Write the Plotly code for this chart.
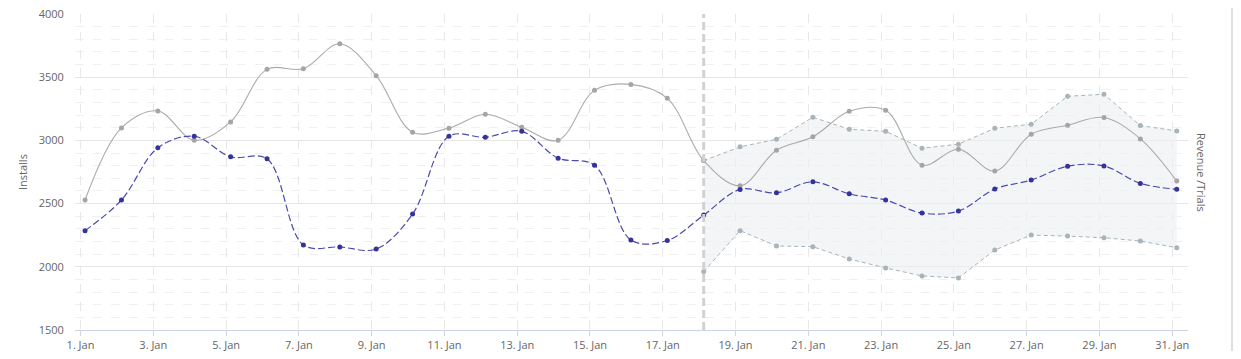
import plotly.graph_objects as go
import pandas as pd

days = list(range(1, 32))
installs_gray = [2528, 3099, 3233, 3001, 3146, 3562, 3567, 3765, 3512, 3065,
                 3097, 3207, 3104, 3001, 3396, 3443, 3333, 2840, 2641, 2922,
                 3028, 3230, 3238, 2804, 2930, 2757, 3049, 3120, 3181, 3012, 2678]
series_blue = [2286, 2528, 2941, 3033, 2870, 2854, 2173, 2157, 2141, 2417,
               3033, 3025, 3072, 2859, 2804, 2212, 2208, 2409, 2612, 2585,
               2672, 2577, 2528, 2425, 2441, 2615, 2686, 2796, 2798, 2660, 2614]
range_days = list(range(18, 32))
range_upper = [2840, 2949, 3009, 3183, 3088, 3072, 2938, 2970, 3096, 3128,
               3349, 3365, 3117, 3075]
range_lower = [1962, 2286, 2165, 2159, 2062, 1991, 1928, 1912, 2133, 2251,
               2243, 2230, 2204, 2151]
y_ticks = [1500, 2000, 2500, 3000, 3500, 4000]

def to_dates(ds):
    return [pd.Timestamp(2020, 1, d, 3) for d in ds]

x_all = to_dates(days)
x_rng = to_dates(range_days)

PAGE_W, PAGE_H = 1241, 359
OFF = 8  # default page body margin
W, H = PAGE_W - 2 * OFF, PAGE_H - 2 * OFF
# desired plot area in page pixels
L, R, T, B = 75, 1188, 14, 330

fig = go.Figure()

range_col = "#a7b4ba"
fig.add_trace(go.Scatter(
    x=x_rng, y=range_lower, mode="lines+markers",
    line=dict(color=range_col, width=1, dash="4px,3px"),
    marker=dict(size=5, color=range_col), showlegend=False, hoverinfo="skip"))
fig.add_trace(go.Scatter(
    x=x_rng, y=range_upper, mode="lines+markers", fill="tonexty",
    fillcolor="rgba(236,238,242,0.6)",
    line=dict(color=range_col, width=1, dash="4px,3px"),
    marker=dict(size=5, color=range_col), showlegend=False, hoverinfo="skip"))

fig.add_trace(go.Scatter(
    x=x_all, y=installs_gray, mode="lines+markers",
    line=dict(color="#ababab", width=1.1, shape="spline", smoothing=1.0),
    marker=dict(size=5, color="#a5a5a5"), showlegend=False))
fig.add_trace(go.Scatter(
    x=x_all, y=series_blue, mode="lines+markers",
    line=dict(color="#4a4ab0", width=1.2, shape="spline", smoothing=1.0, dash="7px,3px"),
    marker=dict(size=5, color="#33339a"), showlegend=False))

fig.add_shape(type="line", xref="x", yref="paper",
              x0=pd.Timestamp(2020, 1, 18, 3), x1=pd.Timestamp(2020, 1, 18, 3),
              y0=0, y1=1, line=dict(color="#d2d2d2", width=3, dash="8px,4px"),
              layer="above")

pw = R - L
ph = B - T
# right container border (as close to the page edge as the figure allows)
bx = min(1237, OFF + W - 1)
fig.add_shape(type="line", xref="paper", yref="paper",
              x0=(bx - L) / pw, x1=(bx - L) / pw,
              y0=-(PAGE_H - B) / ph, y1=1 + T / ph,
              line=dict(color="#d4d4d4", width=1.5))

fig.add_annotation(text="Installs", xref="paper", yref="paper",
                   x=(22 - L) / pw, y=0.5, xanchor="center", yanchor="middle",
                   showarrow=False, textangle=-90,
                   font=dict(size=11, color="#666666"))
fig.add_annotation(text="Revenue /Trials", xref="paper", yref="paper",
                   x=(1202 - L) / pw, y=0.5, xanchor="center", yanchor="middle",
                   showarrow=False, textangle=90,
                   font=dict(size=11, color="#666666"))

font_family = "Open Sans, DejaVu Sans, sans-serif"
fig.update_layout(
    width=W, height=H,
    margin=dict(l=L - OFF, r=(OFF + W) - R, t=T - OFF, b=(OFF + H) - B, pad=0,
                autoexpand=False),
    paper_bgcolor="white", plot_bgcolor="white",
    font=dict(family=font_family, size=11, color="#666666"),
    xaxis=dict(
        type="date", automargin=False, ticklabeloverflow="allow",
        range=[pd.Timestamp(2019, 12, 31, 20, 22), pd.Timestamp(2020, 1, 31, 10, 25)],
        tick0="2020-01-01", dtick=2 * 86400000, tickformat="%-d. %b",
        showgrid=True, gridcolor="#e8e8e8", griddash="dash", gridwidth=1,
        showline=True, linecolor="#ccd6eb", linewidth=1,
        ticks="outside", ticklen=5, tickcolor="#ccd6eb",
        tickfont=dict(size=11, color="#666666"), zeroline=False,
    ),
    yaxis=dict(
        automargin=False, ticklabeloverflow="allow",
        range=[1500, 4000], tickvals=y_ticks, ticktext=[str(v) for v in y_ticks],
        showgrid=True, gridcolor="#e6e6e6", gridwidth=1, zeroline=False,
        showline=False, ticks="outside", ticklen=8, tickcolor="rgba(0,0,0,0)",
        tickfont=dict(size=11, color="#666666"),
        minor=dict(dtick=100, tick0=1500, showgrid=True, gridcolor="#f0f0f0",
                   griddash="dash", ticks=""),
    ),
)

fig.write_html("out.html")
